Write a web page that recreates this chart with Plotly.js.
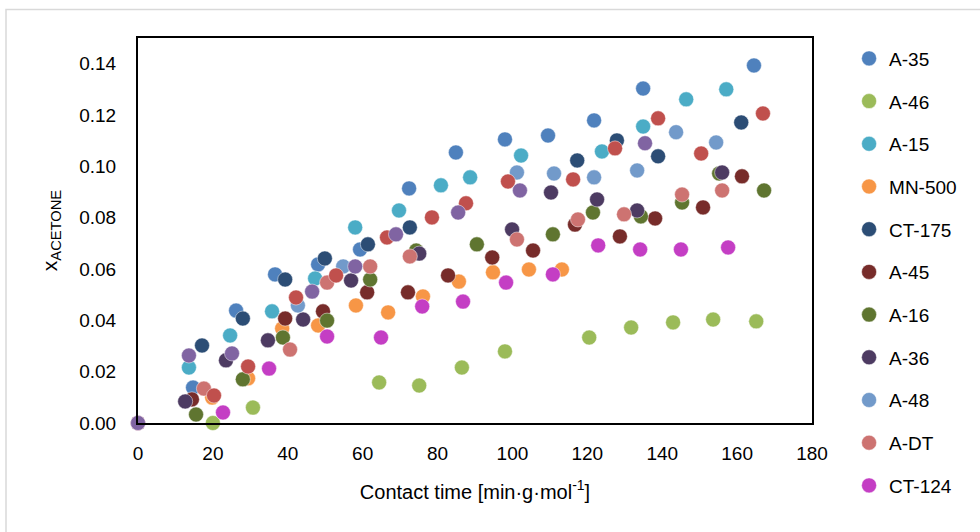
<!DOCTYPE html>
<html>
<head>
<meta charset="utf-8">
<script src="https://cdn.plot.ly/plotly-3.0.1.min.js"></script>
<style>html,body{margin:0;padding:0;background:#fff;}#chart{width:980px;height:532px;}</style>
</head>
<body>
<div id="chart"></div>
<script>
// ---- data ----
const names = ["A-35","A-46","A-15","MN-500","CT-175","A-45","A-16","A-36","A-48","A-DT","CT-124","extra-1","extra-2"];
const colors = ["#4F81BD","#9BBB59","#4BACC6","#F79646","#2C4D75","#772C2A","#5F7530","#4D3B62","#729ACA","#CD7371","#C43EC4","#C0504D","#8064A2"];

const xA35 = [0,14.7,26.2,36.6,48.1,59.3,72.4,84.9,98.0,109.5,121.8,134.9,164.5];
const yA35 = [0,0.0138,0.0438,0.0579,0.0618,0.0676,0.0914,0.1054,0.1105,0.1120,0.1179,0.1303,0.1393];

const xA46 = [0,20.0,30.7,64.4,75.1,86.5,98.0,120.5,131.7,142.9,153.6,165.1];
const yA46 = [0,0,0.0060,0.0158,0.0146,0.0216,0.0279,0.0333,0.0372,0.0392,0.0403,0.0396];

const xA15 = [0,13.6,24.6,35.8,47.3,58.0,69.7,80.9,88.7,102.3,123.9,134.9,146.4,157.1];
const yA15 = [0,0.0216,0.0341,0.0435,0.0563,0.0762,0.0828,0.0926,0.0957,0.1042,0.1058,0.1155,0.1261,0.1300];

const xMN500 = [0,19.8,29.4,38.5,48.1,58.2,66.8,76.1,85.7,94.8,104.4,113.2];
const yMN500 = [0,0.0099,0.0174,0.0368,0.0380,0.0458,0.0431,0.0493,0.0551,0.0587,0.0598,0.0598];

const xCT175 = [0,17.1,28.0,39.3,49.9,61.4,72.6,117.3,127.9,138.9,161.1];
const yCT175 = [0,0.0302,0.0407,0.0559,0.0641,0.0696,0.0762,0.1023,0.1101,0.1039,0.1171];

const xA45 = [0,14.4,39.3,49.4,61.2,72.1,82.8,94.6,105.5,116.7,128.7,138.1,150.9,161.3];
const yA45 = [0,0.0092,0.0407,0.0435,0.0509,0.0509,0.0575,0.0645,0.0672,0.0773,0.0727,0.0797,0.0840,0.0961];

const xA16 = [0,15.5,28.0,38.7,50.5,62.0,74.3,90.5,110.8,121.5,134.3,145.3,155.2,167.2];
const yA16 = [0,0.0033,0.0170,0.0333,0.0399,0.0559,0.0672,0.0696,0.0735,0.0820,0.0805,0.0859,0.0972,0.0906];

const xA36 = [0,12.6,23.5,34.7,44.1,56.9,75.1,99.9,110.3,122.6,133.3,156.0];
const yA36 = [0,0.0084,0.0244,0.0322,0.0403,0.0555,0.0660,0.0754,0.0898,0.0871,0.0828,0.0976];

const xA48 = [0,42.7,54.8,101.2,111.1,121.8,133.3,143.7,154.4];
const yA48 = [0,0.0458,0.0610,0.0976,0.0972,0.0957,0.0984,0.1133,0.1093];

const xADT = [0,17.6,40.6,50.5,62.0,72.6,101.2,117.5,129.8,145.3,156.0];
const yADT = [0,0.0134,0.0286,0.0547,0.0610,0.0649,0.0715,0.0793,0.0813,0.0890,0.0906];

const xCT124 = [0,22.7,35.0,50.5,64.9,75.9,86.8,98.3,110.8,122.9,134.1,145.0,157.6];
const yCT124 = [0,0.0041,0.0212,0.0337,0.0333,0.0454,0.0473,0.0547,0.0579,0.0692,0.0676,0.0676,0.0684];

const xExtra1 = [0,20.3,29.4,42.2,52.9,66.5,78.5,87.6,98.8,116.2,127.4,138.9,150.4,166.9];
const yExtra1 = [0,0.0107,0.0220,0.0489,0.0575,0.0723,0.0801,0.0856,0.0941,0.0949,0.1070,0.1187,0.1050,0.1206];

const xExtra2 = [0,13.6,25.1,46.5,58.0,68.9,85.5,102.0,135.4];
const yExtra2 = [0,0.0263,0.0271,0.0512,0.0610,0.0735,0.0820,0.0906,0.1090];

const xs = [xA35,xA46,xA15,xMN500,xCT175,xA45,xA16,xA36,xA48,xADT,xCT124,xExtra1,xExtra2];
const ys = [yA35,yA46,yA15,yMN500,yCT175,yA45,yA16,yA36,yA48,yADT,yCT124,yExtra1,yExtra2];
const xTicks = [0,20,40,60,80,100,120,140,160,180];
const yTicks = [0,0.02,0.04,0.06,0.08,0.10,0.12,0.14];

const FONT = "Liberation Sans, Arial, sans-serif";

const data = names.map((n,i)=>({
  type:"scatter", mode:"markers", name:n,
  x: xs[i], y: ys[i],
  legendgroup: "g"+i,
  showlegend: i < 11,
  cliponaxis: false,
  marker:{size:15, color:colors[i], line:{width:0.6, color:"rgba(255,255,255,0.8)"}}
}));

const layout = {
  width:980, height:532,
  paper_bgcolor:"#fff", plot_bgcolor:"#fff",
  margin:{l:138, r:168, t:38, b:108.5, pad:0},
  font:{family:FONT, size:19, color:"#000"},
  showlegend:true,
  legend:{
    x:1.055, xanchor:"left", y:0.996, yanchor:"top",
    traceorder:"grouped", tracegroupgap:15, maxheight:600,
    font:{family:FONT, size:19, color:"#000"},
    itemwidth:30, borderwidth:0, bgcolor:"rgba(0,0,0,0)"
  },
  xaxis:{
    range:[0,180], tickvals:xTicks, ticktext:xTicks.map(String),
    showgrid:false, zeroline:false,
    showline:true, mirror:true, linecolor:"#000", linewidth:2,
    ticks:"", ticklabelstandoff:12,
    tickfont:{family:FONT, size:19, color:"#000"},
    title:{text:"Contact time [min·g·mol<sup>-1</sup>]", font:{family:FONT, size:20, color:"#000"}, standoff:22}
  },
  yaxis:{
    range:[0,0.15], tickvals:yTicks, ticktext:yTicks.map(v=>v.toFixed(2)),
    showgrid:false, zeroline:false,
    showline:true, mirror:true, linecolor:"#000", linewidth:2,
    ticks:"", ticklabelstandoff:16,
    tickfont:{family:FONT, size:19, color:"#000"},
    title:{text:"x<sub>ACETONE</sub>", font:{family:FONT, size:21, color:"#000"}, standoff:16}
  },
  shapes:[{
    type:"rect", xref:"paper", yref:"paper",
    x0:(6-138)/674, x1:(990-138)/674, y0:(423.5-545)/385.5, y1:(423.5-9.5)/385.5,
    line:{color:"#D9D9D9", width:1.5}, fillcolor:"rgba(0,0,0,0)", layer:"below"
  }]
};

Plotly.newPlot("chart", data, layout, {displayModeBar:false, staticPlot:true});
</script>
</body>
</html>
